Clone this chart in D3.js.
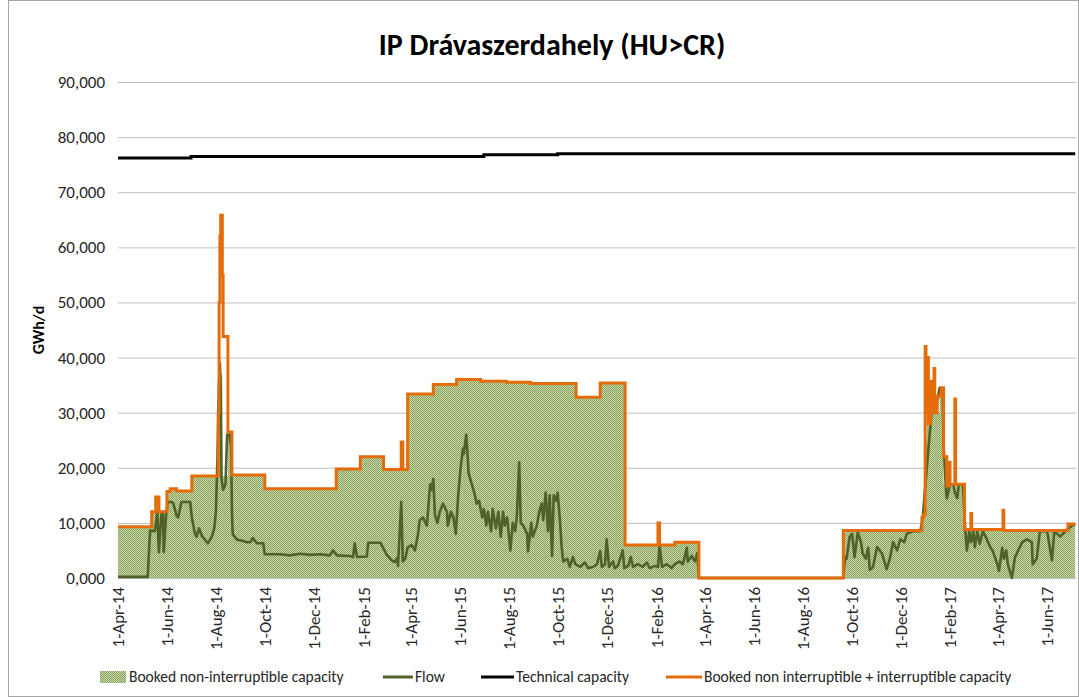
<!DOCTYPE html>
<html>
<head>
<meta charset="utf-8">
<script src="https://cdn.jsdelivr.net/npm/d3@7"></script>
<style>
  body { margin: 0; background: #fff; }
  svg text { font-family: Carlito, Calibri, Lato, "Open Sans", sans-serif; fill: #262626; }
</style>
</head>
<body>
<div id="chart"></div>
<script>
// ==============================
// Data (GWh/d)
// ==============================
var tickDates = ["2014-04-01","2014-06-01","2014-08-01","2014-10-01","2014-12-01",
  "2015-02-01","2015-04-01","2015-06-01","2015-08-01","2015-10-01","2015-12-01",
  "2016-02-01","2016-04-01","2016-06-01","2016-08-01","2016-10-01","2016-12-01",
  "2017-02-01","2017-04-01","2017-06-01"];
var yTicks = [0, 10, 20, 30, 40, 50, 60, 70, 80, 90];

// step series: [date the value starts, value]
var technical = [["2014-04-01",76.2],["2014-07-01",76.5],["2015-07-01",76.8],
  ["2015-10-01",77.0],["2017-07-07",77.0]];

var bookedTotal = [["2014-04-01",9.3],["2014-05-13",12.0],["2014-05-18",14.7],["2014-05-22",12.0],
  ["2014-06-01",15.7],["2014-06-05",16.2],["2014-06-13",15.8],["2014-07-02",18.5],
  ["2014-08-04",30],["2014-08-05",50],["2014-08-06",62],["2014-08-07",65.8],["2014-08-09",55],
  ["2014-08-10",43.8],["2014-08-16",26.5],["2014-08-21",18.7],["2014-10-01",16.2],
  ["2014-12-29",19.8],["2015-01-28",22.0],["2015-02-26",19.7],["2015-03-20",24.7],
  ["2015-03-22",19.7],["2015-03-28",33.4],["2015-04-29",35.1],["2015-05-28",36.0],
  ["2015-06-27",35.7],["2015-07-29",35.5],["2015-08-28",35.3],["2015-10-24",32.8],
  ["2015-11-23",35.4],["2015-12-24",6.0],["2016-02-03",10.0],["2016-02-05",6.0],
  ["2016-02-24",6.5],["2016-03-25",0],["2016-09-21",8.6],["2016-12-28",11.0],
  ["2016-12-30",11.5],["2017-01-01",42.0],["2017-01-02",30.0],["2017-01-04",40.0],
  ["2017-01-05",28.0],["2017-01-08",35.7],["2017-01-09",30.0],["2017-01-12",38.0],
  ["2017-01-13",30.0],["2017-01-16",33.0],["2017-01-21",34.5],["2017-01-24",22.0],
  ["2017-01-28",16.7],["2017-01-31",21.0],["2017-02-01",17.0],["2017-02-07",32.5],
  ["2017-02-08",17.0],["2017-02-19",8.8],["2017-02-27",11.7],["2017-02-28",8.8],
  ["2017-04-08",12.3],["2017-04-09",8.6],["2017-06-28",9.8],["2017-07-07",9.8]];

var bookedFirm = [["2014-04-01",9.3],["2014-05-13",12.0],["2014-05-18",14.7],["2014-05-22",12.0],
  ["2014-06-01",15.7],["2014-06-05",16.2],["2014-06-13",15.8],["2014-07-02",18.5],
  ["2014-08-05",30],["2014-08-06",37],["2014-08-09",18.5],["2014-08-16",26.5],
  ["2014-08-21",18.7],["2014-10-01",16.2],["2014-12-29",19.8],["2015-01-28",22.0],
  ["2015-02-26",19.7],["2015-03-28",33.4],["2015-04-29",35.1],["2015-05-28",36.0],
  ["2015-06-27",35.7],["2015-07-29",35.5],["2015-08-28",35.3],["2015-10-24",32.8],
  ["2015-11-23",35.4],["2015-12-24",6.0],["2016-02-24",6.5],["2016-03-25",0],
  ["2016-09-21",8.6],["2016-12-28",11.0],["2016-12-30",16],["2017-01-01",25],
  ["2017-01-03",30],["2017-01-19",34],["2017-01-22",30],["2017-01-24",17],
  ["2017-02-19",8.8],["2017-04-09",8.6],["2017-06-28",9.8],["2017-07-07",9.8]];

var flow = [["2014-04-01",0.2],["2014-05-08",0.2],["2014-05-11",8.6],["2014-05-17",8.5],
  ["2014-05-20",12],["2014-05-22",4.7],["2014-05-25",11.5],["2014-05-27",12],["2014-05-28",4.7],
  ["2014-05-31",11.5],["2014-06-02",13.8],["2014-06-07",13.8],["2014-06-09",13.5],
  ["2014-06-13",11.3],["2014-06-15",11.0],["2014-06-19",13.8],["2014-06-30",13.8],
  ["2014-07-02",11],["2014-07-06",8],["2014-07-08",7.5],["2014-07-11",9.0],["2014-07-15",7.5],
  ["2014-07-18",7.0],["2014-07-22",6.3],["2014-07-27",7.5],["2014-07-30",9],["2014-08-01",12],
  ["2014-08-03",22],["2014-08-04",30],["2014-08-05",36],["2014-08-06",39],["2014-08-07",34],
  ["2014-08-08",18],["2014-08-10",16],["2014-08-13",17],["2014-08-15",26],["2014-08-18",26],
  ["2014-08-20",24],["2014-08-21",12],["2014-08-22",8],["2014-08-27",7.0],["2014-09-04",6.7],
  ["2014-09-09",6.5],["2014-09-13",6.5],["2014-09-16",7.3],["2014-09-21",6.3],["2014-09-29",6.3],
  ["2014-10-01",4.3],["2014-10-20",4.3],["2014-11-01",4.1],["2014-11-14",4.4],["2014-11-26",4.2],
  ["2014-12-09",4.3],["2014-12-21",4.1],["2014-12-25",5.0],["2014-12-30",4.1],["2015-01-15",4.0],
  ["2015-01-19",3.8],["2015-01-21",6.3],["2015-01-24",3.8],["2015-02-05",3.9],["2015-02-07",6.4],
  ["2015-02-22",6.4],["2015-02-25",5.6],["2015-03-02",4.2],["2015-03-08",3.2],["2015-03-12",2.9],
  ["2015-03-15",3.6],["2015-03-16",2.2],["2015-03-20",13.8],["2015-03-22",3.0],["2015-03-25",3.5],
  ["2015-03-28",5.5],["2015-04-02",6.0],["2015-04-06",5.0],["2015-04-10",8],["2015-04-12",10.5],
  ["2015-04-16",11],["2015-04-21",9.5],["2015-04-25",17],["2015-04-27",16],["2015-04-29",18],
  ["2015-05-01",11.5],["2015-05-04",10],["2015-05-07",12],["2015-05-11",13.5],["2015-05-16",12],
  ["2015-05-17",9.5],["2015-05-21",12],["2015-05-24",11],["2015-05-27",8],["2015-05-30",15],
  ["2015-06-02",20],["2015-06-05",23.5],["2015-06-06",22.5],["2015-06-09",26],["2015-06-10",24],
  ["2015-06-12",19],["2015-06-16",17],["2015-06-19",15.5],["2015-06-22",13.5],["2015-06-25",14],
  ["2015-06-29",11],["2015-07-01",12.5],["2015-07-04",9.5],["2015-07-06",12],["2015-07-10",8.5],
  ["2015-07-12",12.5],["2015-07-16",9],["2015-07-19",12],["2015-07-22",7.5],["2015-07-25",12],
  ["2015-07-27",9.5],["2015-07-30",11],["2015-08-03",5],["2015-08-06",10],["2015-08-09",8.5],
  ["2015-08-11",11],["2015-08-14",21],["2015-08-16",10],["2015-08-19",9.5],["2015-08-24",8],
  ["2015-08-25",4.8],["2015-08-29",10],["2015-08-31",7.5],["2015-09-05",9.5],["2015-09-08",12],
  ["2015-09-11",13.5],["2015-09-13",10.5],["2015-09-16",15.5],["2015-09-19",8.5],["2015-09-21",15],
  ["2015-09-24",4],["2015-09-26",15],["2015-09-29",14],["2015-10-01",15.5],["2015-10-04",10],
  ["2015-10-06",5.5],["2015-10-08",3],["2015-10-13",3.5],["2015-10-16",2],["2015-10-20",3.8],
  ["2015-10-23",2.5],["2015-10-29",2],["2015-11-04",2.8],["2015-11-08",1.8],["2015-11-14",2],
  ["2015-11-19",2.5],["2015-11-23",4.9],["2015-11-25",2],["2015-11-29",2.5],["2015-12-01",7],
  ["2015-12-04",2],["2015-12-09",3],["2015-12-11",1.8],["2015-12-15",2.2],["2015-12-21",5],
  ["2015-12-23",1.8],["2015-12-28",2.2],["2015-12-31",3.8],["2016-01-03",2],["2016-01-09",2.5],
  ["2016-01-15",2],["2016-01-20",2.8],["2016-01-24",1.8],["2016-01-30",2.2],["2016-02-03",2.0],
  ["2016-02-05",6.0],["2016-02-08",2.0],["2016-02-14",2.5],["2016-02-20",1.8],["2016-02-24",2.5],
  ["2016-03-01",3.0],["2016-03-05",2.5],["2016-03-10",5.5],["2016-03-11",3.0],["2016-03-16",4],
  ["2016-03-20",3],["2016-03-23",4.5],["2016-03-25",0],["2016-09-21",0],["2016-09-23",3.8],
  ["2016-09-25",3.5],["2016-09-29",7.5],["2016-10-02",8],["2016-10-05",3.8],["2016-10-09",8.3],
  ["2016-10-13",6.5],["2016-10-15",4.5],["2016-10-19",3.5],["2016-10-22",5.5],["2016-10-24",1.5],
  ["2016-10-28",2.0],["2016-11-02",5.6],["2016-11-08",4.5],["2016-11-14",1.6],["2016-11-18",3.5],
  ["2016-11-22",6.5],["2016-11-27",5.0],["2016-12-01",7.0],["2016-12-06",6.5],["2016-12-09",8],
  ["2016-12-17",8.5],["2016-12-26",8.5],["2016-12-29",11],["2017-01-03",20],["2017-01-09",30],
  ["2017-01-16",32],["2017-01-19",34.5],["2017-01-23",33],["2017-01-24",24],["2017-01-27",16],
  ["2017-01-28",14.5],["2017-02-01",17],["2017-02-05",17],["2017-02-07",15.5],["2017-02-10",14.5],
  ["2017-02-12",17],["2017-02-17",17],["2017-02-20",8.6],["2017-02-22",5],["2017-02-25",8.5],
  ["2017-02-27",6.5],["2017-03-02",8.5],["2017-03-04",5.6],["2017-03-07",8.5],["2017-03-10",6.2],
  ["2017-03-14",8.5],["2017-03-19",7],["2017-03-23",5.6],["2017-03-26",5],["2017-04-01",2.5],
  ["2017-04-03",1.3],["2017-04-07",5.5],["2017-04-09",3.5],["2017-04-12",5],["2017-04-14",2.5],
  ["2017-04-19",0],["2017-04-23",3.8],["2017-04-27",5],["2017-05-02",6.5],["2017-05-08",7],
  ["2017-05-14",6.5],["2017-05-15",2.5],["2017-05-20",3.5],["2017-05-24",8.5],["2017-06-02",8.5],
  ["2017-06-08",3.2],["2017-06-11",8.5],["2017-06-18",7.5],["2017-06-27",8.8],["2017-07-03",9.5],
  ["2017-07-07",9.8]];

var legendLabels = ["Booked non-interruptible capacity", "Flow", "Technical capacity",
  "Booked non interruptible + interruptible capacity"];

// ==============================
// Setup SVG Area
// ==============================
var svgWidth = 1079, svgHeight = 697;
var margin = { top: 82, right: 3, bottom: 119, left: 118 };
var width = svgWidth - margin.left - margin.right;
var height = svgHeight - margin.top - margin.bottom;

var parseDate = d3.timeParse("%Y-%m-%d");
var toPoints = function(arr) { return arr.map(function(d) { return { date: parseDate(d[0]), value: d[1] }; }); };

var svg = d3.select("#chart").append("svg")
  .attr("width", svgWidth)
  .attr("height", svgHeight);

// chart border
svg.append("rect")
  .attr("x", 8.5).attr("y", 0.5)
  .attr("width", svgWidth - 9).attr("height", svgHeight - 1)
  .attr("fill", "none").attr("stroke", "#a6a6a6");

// checker pattern like Excel's small grid fill
var defs = svg.append("defs");
var pat = defs.append("pattern")
  .attr("id", "checker").attr("patternUnits", "userSpaceOnUse")
  .attr("width", 2).attr("height", 2);
pat.append("rect").attr("width", 2).attr("height", 2).attr("fill", "#c8d7ab");
pat.append("rect").attr("width", 1).attr("height", 1).attr("fill", "#8aa35c");
pat.append("rect").attr("x", 1).attr("y", 1).attr("width", 1).attr("height", 1).attr("fill", "#8aa35c");

var chartGroup = svg.append("g")
  .attr("transform", `translate(${margin.left}, ${margin.top})`);

// Scales
var xScale = d3.scaleTime()
  .domain([parseDate("2014-04-01"), parseDate("2017-07-08")])
  .range([0, width]);
var yScale = d3.scaleLinear().domain([0, 90]).range([height, 0]);

// Gridlines + y labels
var fmt = d3.formatLocale({ decimal: ",", thousands: ".", grouping: [3], currency: ["", ""] }).format(".3f");
var yAxis = d3.axisLeft(yScale).tickValues(yTicks).tickSize(-width).tickPadding(13).tickFormat(fmt);
var yG = chartGroup.append("g").call(yAxis);
yG.select(".domain").remove();
yG.selectAll("line").attr("stroke", "#bfbfbf");
yG.selectAll("text").style("font-size", "17px");

// Areas and lines
var area = d3.area().curve(d3.curveStepAfter)
  .x(d => xScale(d.date)).y0(height).y1(d => yScale(d.value));
var stepLine = d3.line().curve(d3.curveStepAfter)
  .x(d => xScale(d.date)).y(d => yScale(d.value));
var line = d3.line()
  .x(d => xScale(d.date)).y(d => yScale(d.value));

chartGroup.append("path").datum(toPoints(bookedFirm))
  .attr("d", area).attr("fill", "url(#checker)");

// x axis
var xAxis = d3.axisBottom(xScale)
  .tickValues(tickDates.map(parseDate))
  .tickSize(0)
  .tickFormat(d3.timeFormat("%-d-%b-%y"));
var xG = chartGroup.append("g")
  .attr("transform", `translate(0, ${height})`)
  .call(xAxis);
xG.select(".domain").attr("stroke", "#bfbfbf");
xG.selectAll("text")
  .style("font-size", "17px")
  .attr("text-anchor", "end")
  .attr("transform", "rotate(-90)")
  .attr("x", -9).attr("y", 0).attr("dy", "0.35em");

chartGroup.append("path").datum(toPoints(flow))
  .attr("d", line).attr("fill", "none")
  .attr("stroke", "#4f6228").attr("stroke-width", 2.6).attr("stroke-linejoin", "round");

chartGroup.append("path").datum(toPoints(bookedTotal))
  .attr("d", stepLine).attr("fill", "none")
  .attr("stroke", "#e46c0a").attr("stroke-width", 3);

chartGroup.append("path").datum(toPoints(technical))
  .attr("d", stepLine).attr("fill", "none")
  .attr("stroke", "#000").attr("stroke-width", 3);

// Title and axis label
svg.append("text")
  .attr("x", 552).attr("y", 55)
  .attr("text-anchor", "middle")
  .style("font-size", "30px").style("font-weight", "bold").style("fill", "#000")
  .text("IP Drávaszerdahely (HU>CR)");

svg.append("text")
  .attr("transform", "rotate(-90)")
  .attr("x", -330).attr("y", 44)
  .attr("text-anchor", "middle")
  .style("font-size", "16px").style("font-weight", "bold").style("fill", "#000")
  .text("GWh/d");

// ==============================
// Legend
// ==============================
var legendY = 677;
var legend = svg.append("g");
legend.append("rect").attr("x", 100).attr("y", legendY - 6).attr("width", 26).attr("height", 12)
  .attr("fill", "url(#checker)");
legend.append("text").attr("x", 129).attr("y", legendY).attr("dy", "0.35em")
  .style("font-size", "15.5px").text(legendLabels[0]);

var legendLines = [
  { x1: 383, x2: 413, tx: 415, color: "#4f6228", label: legendLabels[1] },
  { x1: 481, x2: 514, tx: 516, color: "#000", label: legendLabels[2] },
  { x1: 666, x2: 702, tx: 704, color: "#e46c0a", label: legendLabels[3] }
];
legendLines.forEach(function(d) {
  legend.append("line").attr("x1", d.x1).attr("x2", d.x2).attr("y1", legendY).attr("y2", legendY)
    .attr("stroke", d.color).attr("stroke-width", 3);
  legend.append("text").attr("x", d.tx).attr("y", legendY).attr("dy", "0.35em")
    .style("font-size", "15.5px").text(d.label);
});
</script>
</body>
</html>
